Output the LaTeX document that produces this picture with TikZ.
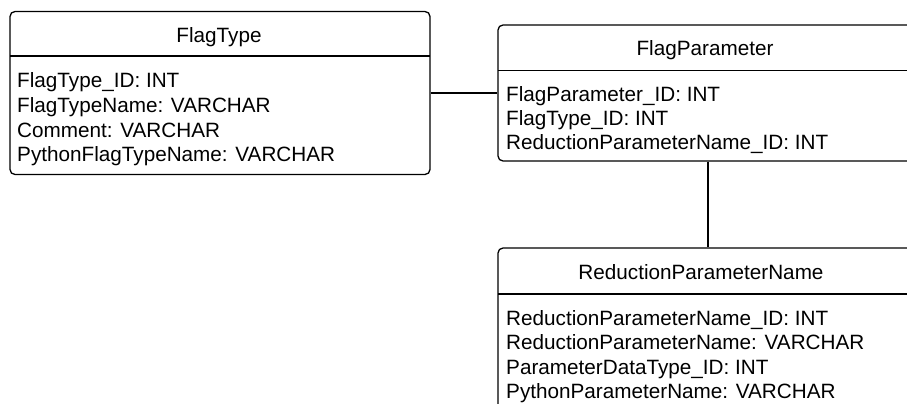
\documentclass[tikz,border=0pt]{standalone}
\usepackage{fontspec}
\setmainfont{Liberation Sans}
\begin{document}
\begin{tikzpicture}[x=1pt,y=-1pt,
  box/.style={draw=black,line width=1.3pt,rounded corners=5pt,rectangle,inner sep=0pt},
  title/.style={inner sep=0pt,anchor=base,font=\fontsize{20.7}{24.5}\selectfont},
  attr/.style={inner sep=0pt,anchor=base west,font=\fontsize{20.7}{24.5}\selectfont},
  link/.style={draw=black,line width=1.3pt}]
\useasboundingbox (0,0) rectangle (907,404);
\clip (0,0) rectangle (907,404);
% FlagType
\node[box,minimum width=420pt,minimum height=163pt] (ft) at (220,93) {};
\draw[line width=1.3pt] (10,56) -- (430,56);
\node[title] (ftt) at (219,43) {FlagType};
\node[attr] (ft1) at (17,88) {FlagType\_ID: INT};
\node[attr] (ft2) at (17,112.5) {FlagTypeName: VARCHAR};
\node[attr] (ft3) at (17,137) {Comment: VARCHAR};
\node[attr] (ft4) at (17,161.5) {PythonFlagTypeName: VARCHAR};
% FlagParameter
\node[box,minimum width=420pt,minimum height=136pt] (fp) at (708,93) {};
\draw[line width=1.3pt] (498,70.5) -- (918,70.5);
\node[title] (fpt) at (705,56) {FlagParameter};
\node[attr] (fp1) at (506,101) {FlagParameter\_ID: INT};
\node[attr] (fp2) at (506,125.2) {FlagType\_ID: INT};
\node[attr] (fp3) at (506,149.5) {ReductionParameterName\_ID: INT};
% ReductionParameterName
\node[box,minimum width=420pt,minimum height=180pt] (rp) at (708,338) {};
\draw[line width=1.3pt] (498,294) -- (918,294);
\node[title] (rpt) at (701,279) {ReductionParameterName};
\node[attr] (rp1) at (506,325) {ReductionParameterName\_ID: INT};
\node[attr] (rp2) at (506,349.5) {ReductionParameterName: VARCHAR};
\node[attr] (rp3) at (506,374) {ParameterDataType\_ID: INT};
\node[attr] (rp4) at (506,398.5) {PythonParameterName: VARCHAR};
% connectors
\draw[link] (ft.east) -- (fp.west);
\draw[link] (fp.south) -- (rp.north);
\end{tikzpicture}
\end{document}
